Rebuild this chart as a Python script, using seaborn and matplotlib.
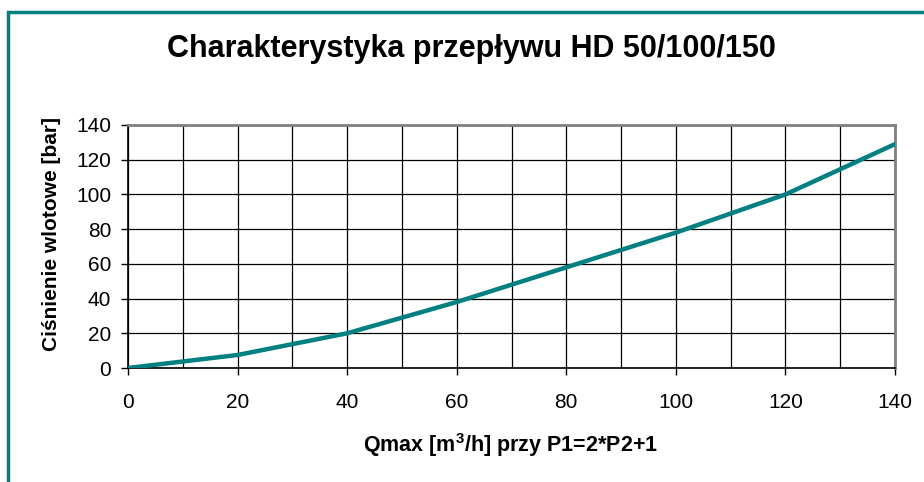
import matplotlib
matplotlib.use("Agg")
import matplotlib.pyplot as plt
import seaborn as sns
import pandas as pd
from matplotlib.patches import Rectangle
from matplotlib.ticker import MultipleLocator

# Data
flow = [0, 20, 40, 60, 80, 100, 120, 140]
pressure = [0, 7.5, 20, 38, 58, 78, 100, 129]
title = "Charakterystyka przepływu HD 50/100/150"
xlabel = "Qmax [m$^3$/h] przy P1=2*P2+1"
ylabel = "Ciśnienie wlotowe [bar]"

sns.set_style("white")
plt.rcParams['font.family'] = ['Liberation Sans', 'DejaVu Sans']
plt.rcParams['mathtext.fontset'] = 'custom'
plt.rcParams['mathtext.rm'] = 'Liberation Sans:bold'
plt.rcParams['mathtext.bf'] = 'Liberation Sans:bold'
plt.rcParams['text.color'] = 'black'
plt.rcParams['axes.labelcolor'] = 'black'

teal = "#008080"
W, H = 924, 482
fig = plt.figure(figsize=(W / 100, H / 100), dpi=100)
fig.patch.set_facecolor("white")

L, R, T, B = 128, 895, 125, 368
ax = fig.add_axes([L / W, 1 - B / H, (R - L) / W, (B - T) / H])

df = pd.DataFrame({"flow": flow, "pressure": pressure})
sns.lineplot(data=df, x="flow", y="pressure", ax=ax, color=teal, linewidth=3.2,
             solid_joinstyle="round", zorder=5)

ax.set_xlim(0, 140)
ax.set_ylim(0, 140)
ax.xaxis.set_major_locator(MultipleLocator(20))
ax.xaxis.set_minor_locator(MultipleLocator(10))
ax.yaxis.set_major_locator(MultipleLocator(20))
ax.grid(True, which="both", axis="x", color="black", linewidth=0.9)
ax.grid(True, which="major", axis="y", color="black", linewidth=0.9)
ax.set_axisbelow(True)

ax.tick_params(axis="both", which="major", direction="out", length=5, width=1,
               color="black", labelsize=15, labelcolor="black")
ax.tick_params(axis="x", which="minor", length=0)
ax.tick_params(left=True, bottom=True)
ax.tick_params(axis="x", pad=13)
ax.tick_params(axis="y", pad=7)

for side in ["left", "bottom"]:
    ax.spines[side].set_color("black")
    ax.spines[side].set_linewidth(1.2)
for side in ["top", "right"]:
    ax.spines[side].set_color("#808080")
    ax.spines[side].set_linewidth(2)

ax.set_xlabel(xlabel, fontsize=15.5, fontweight="bold", color="black")
ax.set_ylabel(ylabel, fontsize=15, fontweight="bold", color="black")
ax.xaxis.set_label_coords((511 - L) / (R - L), (B - 431) / (B - T))
ax.yaxis.set_label_coords((61 - L) / (R - L), (B - 234) / (B - T))

fig.text(471.5 / W, 1 - 49 / H, title, ha="center", va="center",
         fontsize=22, fontweight="bold", color="black")

border = Rectangle((8 / W, -0.2), 1.0, (1 - 11.5 / H) + 0.2, transform=fig.transFigure,
                   fill=False, edgecolor=teal, linewidth=2.5)
fig.patches.append(border)

fig.savefig("out.png", dpi=100)
